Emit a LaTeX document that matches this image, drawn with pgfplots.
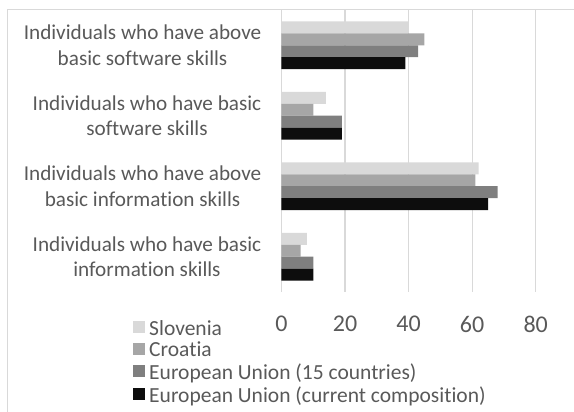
\documentclass[border=0pt]{standalone}
\usepackage{fontspec}
\setmainfont{Carlito}[Ligatures=NoCommon]
\usepackage{pgfplots}
\pgfplotsset{compat=1.18}
\definecolor{cSlo}{HTML}{D9D9D9}
\definecolor{cCro}{HTML}{A6A6A6}
\definecolor{cEUf}{HTML}{7F7F7F}
\definecolor{cEU}{HTML}{0D0D0D}
\definecolor{txt}{HTML}{595959}
\definecolor{gridc}{HTML}{D9D9D9}
\begin{document}
\begin{tikzpicture}
\useasboundingbox (0pt,0pt) rectangle (574pt,412pt);
\draw[gridc, line width=1pt] (7pt,0pt) -- (7pt,402pt) -- (574pt,402pt);
\begin{axis}[
  at={(281.5pt,120pt)}, anchor=south west,
  scale only axis, width=254.2pt, height=282pt,
  xbar, bar width=0.17,
  xmin=0, xmax=80, ymin=-0.5, ymax=3.5,
  xtick={0,20,40,60,80},
  ytick={0,1,2,3},
  yticklabels={{Individuals who have basic\\information skills},
               {Individuals who have above\\basic information skills},
               {Individuals who have basic\\software skills},
               {Individuals who have above\\basic software skills}},
  xmajorgrids, grid style={gridc, line width=1.2pt},
  axis line style={draw=none},
  major tick length=0pt,
  /pgf/number format/assume math mode=true,
  xticklabel style={font=\fontsize{24}{28}\selectfont, text=txt, inner sep=0pt, yshift=-24pt},
  yticklabel style={align=center, font=\fontsize{21.2}{25.7}\selectfont, text=txt, inner sep=0pt, xshift=-20pt},
  legend image code/.code={\fill[#1] (0pt,-5pt) rectangle (12pt,7pt); \path (14pt,0pt);},
  legend cell align=left,
  legend style={at={(axis description cs:-0.584,-0.092)}, anchor=north west,
    draw=none, fill=none, font=\fontsize{21.5}{24}\selectfont, text=txt,
    row sep=1.5pt, inner sep=0pt},
]
\addplot[fill=cSlo, draw=none, bar shift=0.255] coordinates {(8,0) (62,1) (14,2) (40,3)};
\addlegendentry{Slovenia}
\addplot[fill=cCro, draw=none, bar shift=0.085] coordinates {(6,0) (61,1) (10,2) (45,3)};
\addlegendentry{Croatia}
\addplot[fill=cEUf, draw=none, bar shift=-0.085] coordinates {(10,0) (68,1) (19,2) (43,3)};
\addlegendentry{European Union (15 countries)}
\addplot[fill=cEU, draw=none, bar shift=-0.255] coordinates {(10,0) (65,1) (19,2) (39,3)};
\addlegendentry{European Union (current composition)}
\end{axis}
\end{tikzpicture}
\end{document}
